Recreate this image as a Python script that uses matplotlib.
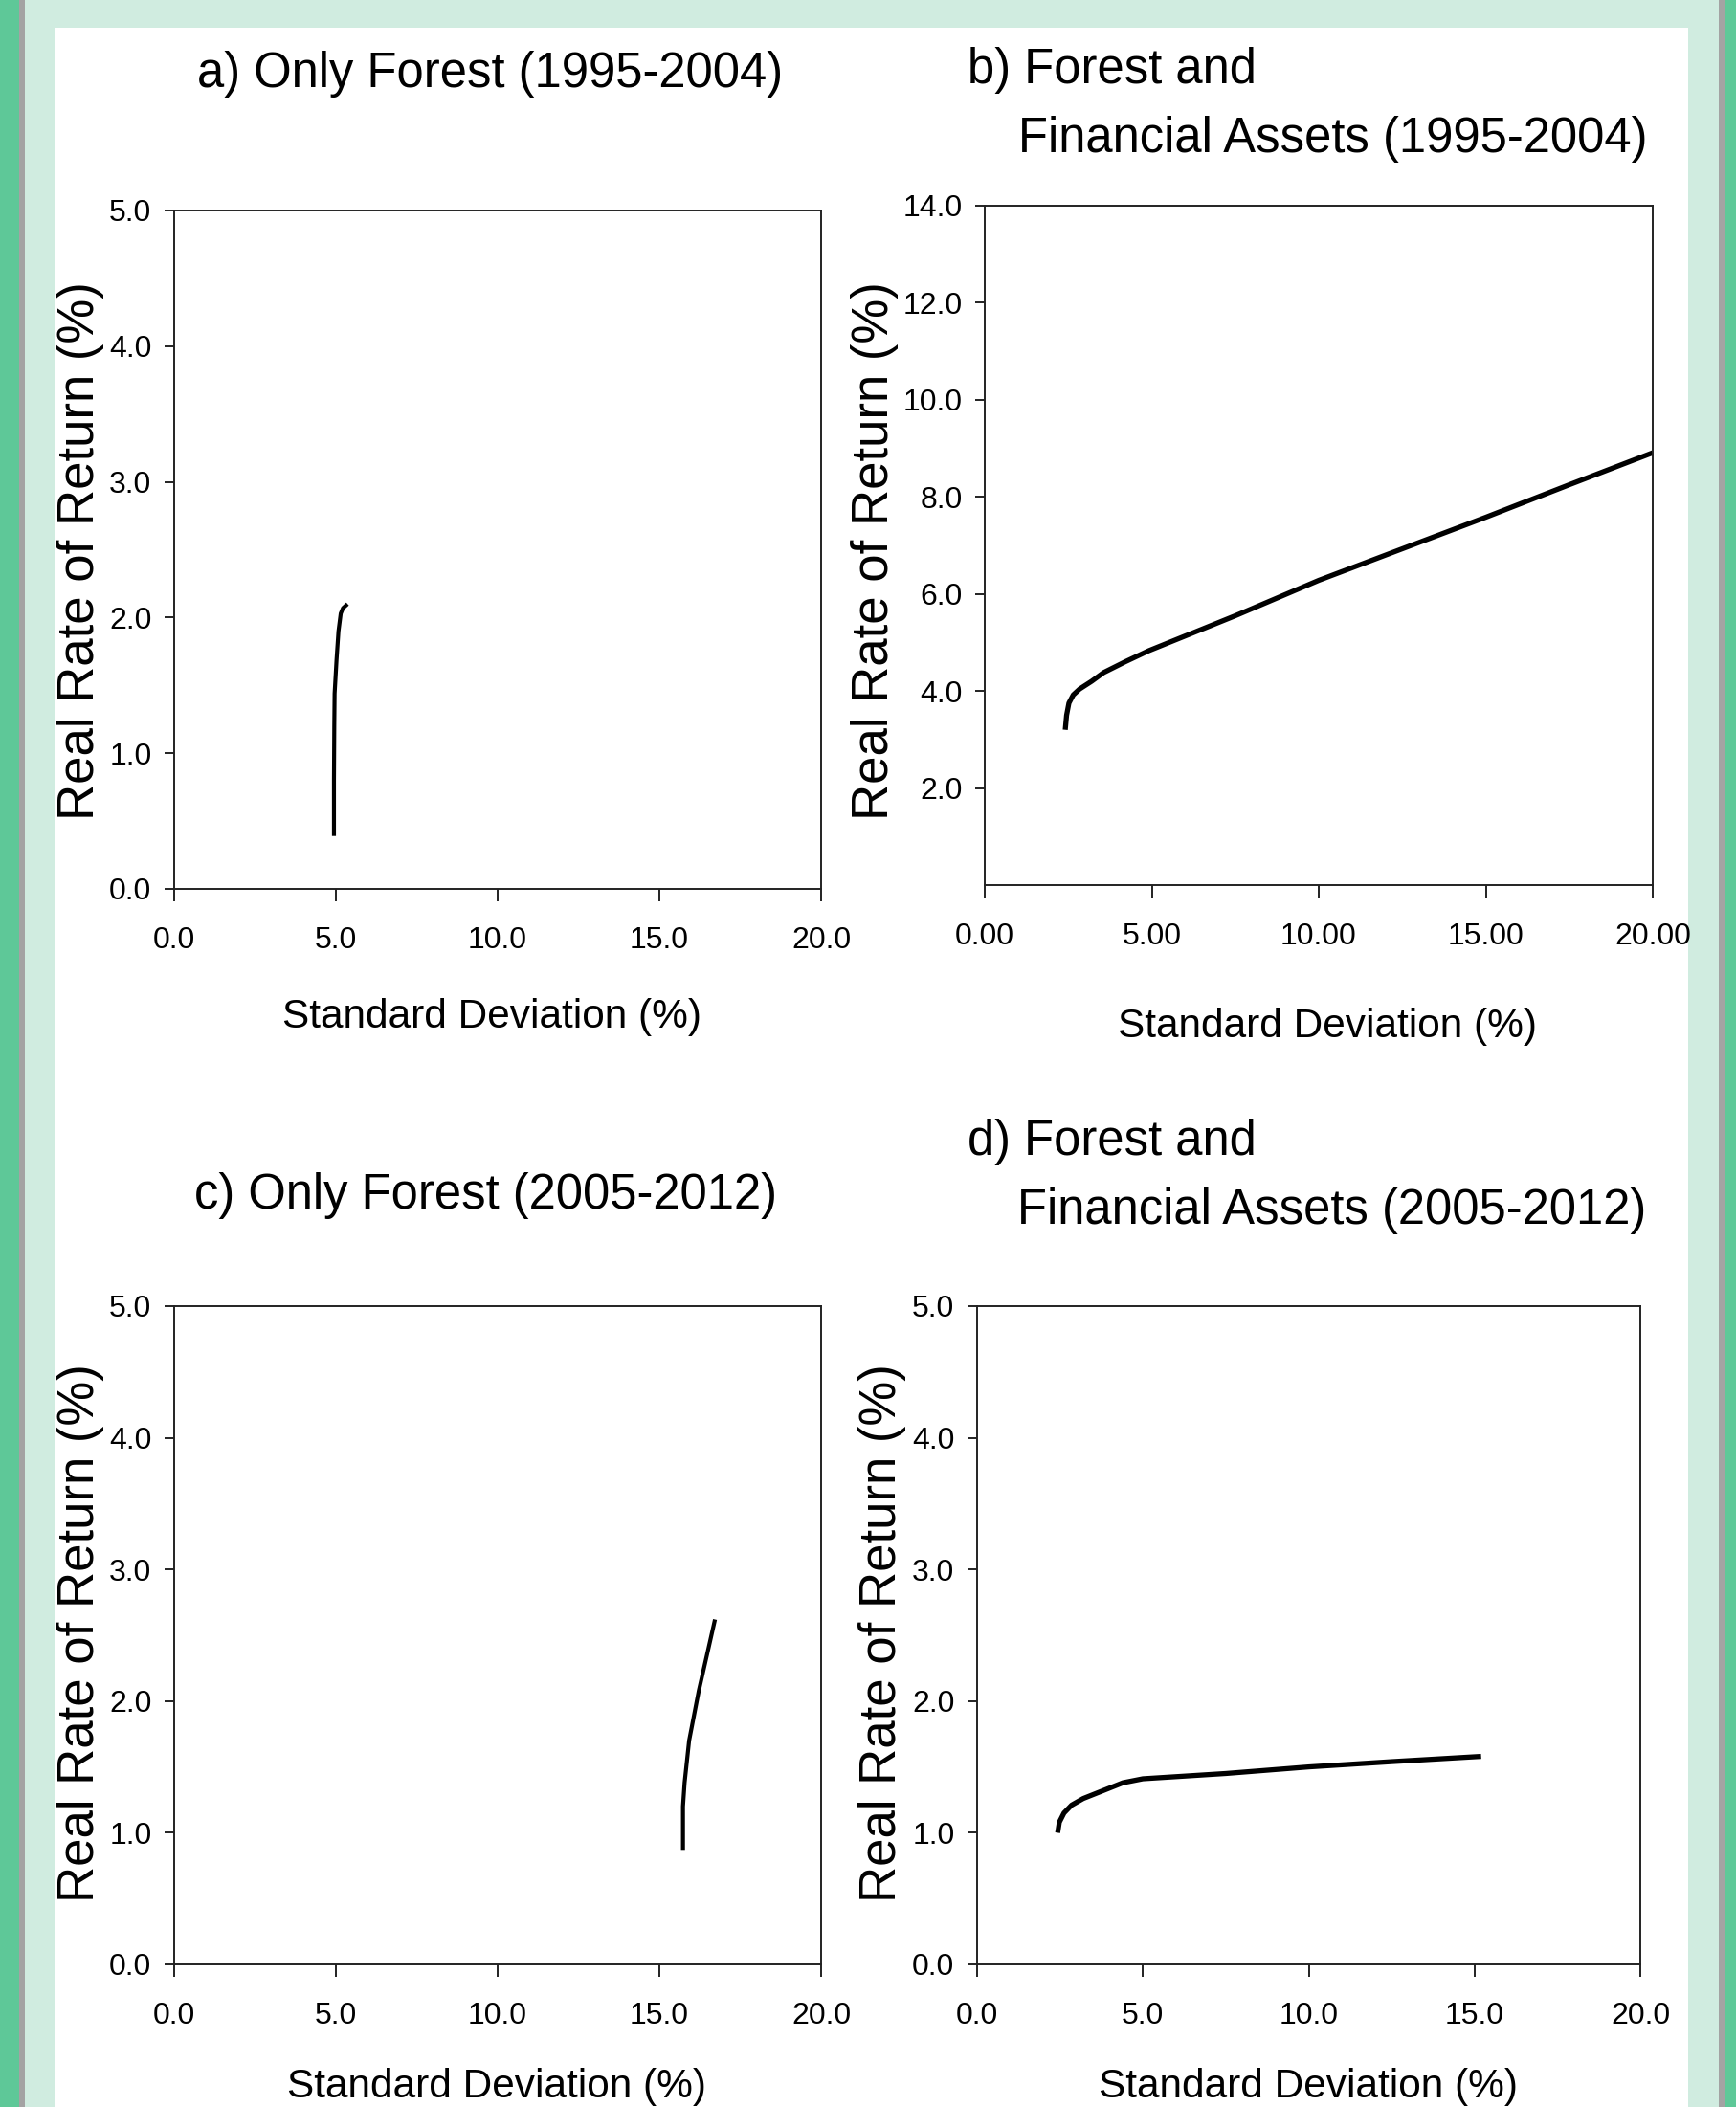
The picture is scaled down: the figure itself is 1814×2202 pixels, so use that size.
import matplotlib
matplotlib.use("Agg")
import matplotlib.pyplot as plt
from matplotlib.patches import Rectangle
from matplotlib.ticker import FormatStrFormatter

# frontier points: (std dev %, real return %)
sd_a = [4.94, 4.94, 4.95, 4.96, 5.02, 5.08, 5.15, 5.22, 5.36]
ret_a = [0.39, 0.80, 1.20, 1.44, 1.69, 1.90, 2.03, 2.07, 2.10]

sd_b = [2.41, 2.45, 2.52, 2.65, 2.84, 3.20, 3.56, 4.20, 4.91, 7.5, 10.0, 12.5, 15.0, 17.5, 20.0]
ret_b = [3.20, 3.50, 3.75, 3.92, 4.04, 4.20, 4.38, 4.60, 4.83, 5.55, 6.28, 6.93, 7.58, 8.25, 8.91]

sd_c = [15.73, 15.73, 15.78, 15.92, 16.22, 16.48, 16.72]
ret_c = [0.87, 1.20, 1.38, 1.70, 2.08, 2.36, 2.62]

sd_d = [2.43, 2.48, 2.62, 2.85, 3.20, 3.80, 4.40, 5.00, 7.5, 10.0, 12.5, 15.2]
ret_d = [1.00, 1.08, 1.15, 1.21, 1.26, 1.32, 1.38, 1.41, 1.45, 1.50, 1.54, 1.58]

W, H = 1814, 2202
narrow = ["Liberation Sans Narrow", "Liberation Sans", "DejaVu Sans"]
plain = ["Liberation Sans", "DejaVu Sans"]

fig = plt.figure(figsize=(W / 100, H / 100), dpi=100)
fig.patch.set_facecolor("white")

# page frame in pixel coords
bg = fig.add_axes([0, 0, 1, 1], zorder=-5)
bg.set_xlim(0, W)
bg.set_ylim(H, 0)
bg.axis("off")
green, grey, mint = "#5ec898", "#a3a3a3", "#d0ece0"
bg.add_patch(Rectangle((0, 0), 20, H, color=green, lw=0))
bg.add_patch(Rectangle((20, 0), 6, H, color=grey, lw=0))
bg.add_patch(Rectangle((26, 0), 31, H, color=mint, lw=0))
bg.add_patch(Rectangle((26, 0), 1770, 29, color=mint, lw=0))
bg.add_patch(Rectangle((1764, 0), 32, H, color=mint, lw=0))
bg.add_patch(Rectangle((1796, 0), 6, H, color=grey, lw=0))
bg.add_patch(Rectangle((1802, 0), 12, H, color=green, lw=0))


def make_axes(x0, x1, y0, y1):
    return fig.add_axes([x0 / W, 1 - y1 / H, (x1 - x0) / W, (y1 - y0) / H])


def style(ax, xfmt, yfmt):
    for s in ax.spines.values():
        s.set_linewidth(1.4)
        s.set_color("#222222")
    ax.tick_params(direction="out", length=7, width=1.4, color="#222222")
    ax.tick_params(axis="x", pad=19, length=9)
    ax.tick_params(axis="y", pad=10)
    ax.xaxis.set_major_formatter(FormatStrFormatter(xfmt))
    ax.yaxis.set_major_formatter(FormatStrFormatter(yfmt))
    for lab in ax.get_xticklabels() + ax.get_yticklabels():
        lab.set_fontfamily(narrow)
        lab.set_fontsize(23)


def labels(xl_pos, yl_pos):
    fig.text(xl_pos[0] / W, 1 - xl_pos[1] / H, "Standard Deviation (%)",
             family=narrow, fontsize=30.5, ha="center", va="center")
    fig.text(yl_pos[0] / W, 1 - yl_pos[1] / H, "Real Rate of Return (%)",
             family=plain, fontsize=38, ha="center", va="center", rotation=90)


# a)
ax = make_axes(182, 858, 220, 929)
ax.plot(sd_a, ret_a, color="black", lw=3.0, solid_capstyle="butt")
ax.set_xlim(0, 20)
ax.set_ylim(0, 5)
ax.set_xticks([0, 5, 10, 15, 20])
ax.set_yticks([0, 1, 2, 3, 4, 5])
style(ax, "%.1f", "%.1f")
labels((514, 1063), (84, 576))
fig.text(512 / W, 1 - 77 / H, "a) Only Forest (1995-2004)", family=narrow,
         fontsize=36.5, ha="center", va="center")

# b)
ax = make_axes(1029, 1727, 215, 925)
ax.plot(sd_b, ret_b, color="black", lw=3.8, solid_capstyle="butt")
ax.set_xlim(0, 20)
ax.set_ylim(0, 14)
ax.set_xticks([0, 5, 10, 15, 20])
ax.set_yticks([2, 4, 6, 8, 10, 12, 14])
style(ax, "%.2f", "%.1f")
labels((1387, 1073), (914, 576))
fig.text(1011 / W, 1 - 73 / H, "b) Forest and", family=narrow,
         fontsize=36.5, ha="left", va="center")
fig.text(1064 / W, 1 - 145 / H, "Financial Assets (1995-2004)", family=narrow,
         fontsize=36.5, ha="left", va="center")

# c)
ax = make_axes(182, 858, 1365, 2053)
ax.plot(sd_c, ret_c, color="black", lw=3.0, solid_capstyle="butt")
ax.set_xlim(0, 20)
ax.set_ylim(0, 5)
ax.set_xticks([0, 5, 10, 15, 20])
ax.set_yticks([0, 1, 2, 3, 4, 5])
style(ax, "%.1f", "%.1f")
labels((519, 2181), (84, 1707))
fig.text(508 / W, 1 - 1250 / H, "c) Only Forest (2005-2012)", family=narrow,
         fontsize=36.5, ha="center", va="center")

# d)
ax = make_axes(1021, 1714, 1365, 2053)
ax.plot(sd_d, ret_d, color="black", lw=3.8, solid_capstyle="butt")
ax.set_xlim(0, 20)
ax.set_ylim(0, 5)
ax.set_xticks([0, 5, 10, 15, 20])
ax.set_yticks([0, 1, 2, 3, 4, 5])
style(ax, "%.1f", "%.1f")
labels((1367, 2181), (922, 1707))
fig.text(1011 / W, 1 - 1193 / H, "d) Forest and", family=narrow,
         fontsize=36.5, ha="left", va="center")
fig.text(1063 / W, 1 - 1266 / H, "Financial Assets (2005-2012)", family=narrow,
         fontsize=36.5, ha="left", va="center")

fig.savefig("out.png", dpi=100)
